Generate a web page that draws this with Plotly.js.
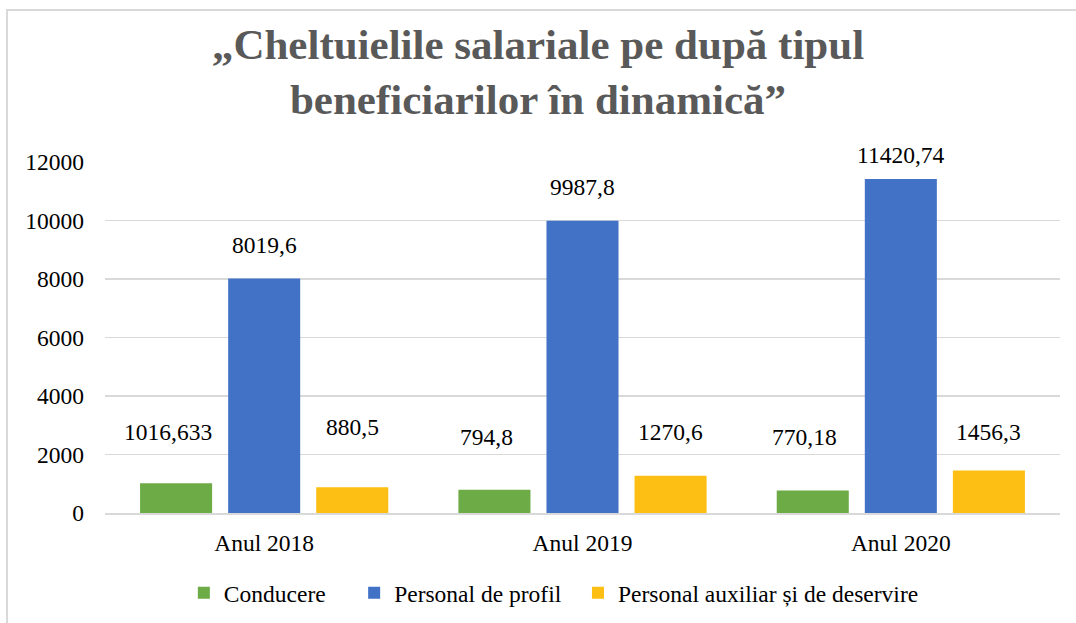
<!DOCTYPE html>
<html>
<head>
<meta charset="utf-8">
<script src="https://cdn.plot.ly/plotly-3.0.1.min.js"></script>
<style>
html,body{margin:0;padding:0;background:#fff;}
#chart{width:1076px;height:623px;}
</style>
</head>
<body>
<div id="chart"></div>
<script>
const categories = ["Anul 2018", "Anul 2019", "Anul 2020"];
const seriesNames = ["Conducere", "Personal de profil", "Personal auxiliar și de deservire"];
const conducere = [1016.633, 794.8, 770.18];
const personalProfil = [8019.6, 9987.8, 11420.74];
const personalAuxiliar = [880.5, 1270.6, 1456.3];
const conducereLabels = ["1016,633", "794,8", "770,18"];
const profilLabels = ["8019,6", "9987,8", "11420,74"];
const auxiliarLabels = ["880,5", "1270,6", "1456,3"];
const yTicks = [0, 2000, 4000, 6000, 8000, 10000, 12000];

// style / layout constants (pixel offsets of the moved data labels)
const colors = ["#6cab45", "#4272c6", "#fdbf14"];
const labelShift = [[51, 53, 53], [33, 34, 24], [60, 44, 38]];
const serif = "'Liberation Serif', 'Times New Roman', serif";
const fs = 23.5;
const legendPad = ["\u00a0\u00a0\u00a0\u00a0", "\u00a0\u00a0", ""];

const series = [conducere, personalProfil, personalAuxiliar];
const labels = [conducereLabels, profilLabels, auxiliarLabels];

const traces = series.map((vals, i) => ({
  type: "bar",
  name: seriesNames[i] + legendPad[i],
  x: categories,
  y: vals,
  marker: {color: colors[i]},
  hoverinfo: "skip"
}));

const annotations = [];
const slotOffset = [-1, 0, 1];
series.forEach((vals, i) => {
  vals.forEach((v, j) => {
    annotations.push({
      x: categories[j], y: v, xref: "x", yref: "y",
      text: labels[i][j], showarrow: false,
      xshift: slotOffset[i] * 88 - (i === 0 ? 8 : 0),
      yshift: labelShift[i][j],
      font: {family: serif, size: fs, color: "#000"}
    });
  });
});

const layout = {
  width: 1076, height: 623,
  paper_bgcolor: "#fff", plot_bgcolor: "#fff",
  margin: {l: 105, r: 16, t: 162, b: 110},
  title: {
    text: "„Cheltuielile salariale pe după tipul<br>beneficiarilor în dinamică”",
    font: {family: serif, size: 43, color: "#595959", weight: "bold"},
    x: 0.5, xanchor: "center", yref: "container", y: 0.906, yanchor: "middle"
  },
  barmode: "group",
  bargap: 0.17,
  bargroupgap: 0.182,
  showlegend: true,
  legend: {
    orientation: "h", x: 0.47, xanchor: "center",
    yref: "container", y: 0.048, yanchor: "middle",
    font: {family: serif, size: fs, color: "#000"},
    itemwidth: 30
  },
  xaxis: {
    type: "category", automargin: false,
    tickfont: {family: serif, size: fs, color: "#000"},
    showline: true, linecolor: "#d9d9d9", linewidth: 1.5,
    ticks: "", showgrid: false, ticklabelstandoff: 8
  },
  yaxis: {
    range: [0, 12000], automargin: false,
    tickvals: yTicks,
    ticktext: yTicks.map(String),
    tickfont: {family: serif, size: fs, color: "#000"},
    showgrid: true, gridcolor: "#d9d9d9", gridwidth: 1.5,
    zeroline: false, showline: false, ticks: "",
    ticklabelstandoff: 20
  },
  annotations: annotations,
  shapes: [{
    type: "rect", xref: "paper", yref: "paper",
    x0: -0.1026, x1: 1.05, y0: -0.4, y1: 1.433,
    line: {color: "#d9d9d9", width: 2}, fillcolor: "rgba(0,0,0,0)",
    layer: "below"
  }]
};

Plotly.newPlot("chart", traces, layout, {displayModeBar: false, staticPlot: true});
</script>
</body>
</html>
